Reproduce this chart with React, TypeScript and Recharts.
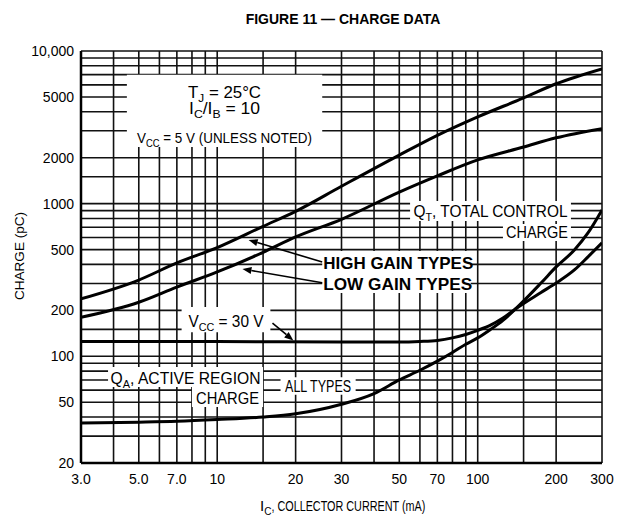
import React from 'react';
import {
  LineChart, Line, XAxis, YAxis, CartesianGrid,
  ReferenceArea, ReferenceLine,
} from 'recharts';

// grid / tick values (log-log paper)
const X_TICKS = [3, 4, 5, 6, 7, 8, 9, 10, 15, 20, 30, 40, 50, 60, 70, 80, 90, 100, 150, 200, 300];
const X_LABELS: Record<number, string> = {
  3: '3.0', 5: '5.0', 7: '7.0', 10: '10', 20: '20', 30: '30',
  50: '50', 70: '70', 100: '100', 200: '200', 300: '300',
};
const Y_TICKS = [
  20, 30, 40, 50, 60, 70, 80, 90, 100, 150, 200, 300, 400, 500, 600, 700, 800, 900,
  1000, 1500, 2000, 3000, 4000, 5000, 6000, 7000, 8000, 9000, 10000,
];
const Y_LABELS: Record<number, string> = {
  20: '20', 50: '50', 100: '100', 200: '200', 500: '500',
  1000: '1000', 2000: '2000', 5000: '5000', 10000: '10,000',
};

// Q_T, high gain types, Vcc = 5 V
const HIGH_IC = [3, 5, 7, 10, 15, 20, 30, 50, 70, 100, 150, 200, 300];
const HIGH_Q = [238, 316, 409, 515, 710, 890, 1300, 2080, 2800, 3700, 4930, 6100, 7640];

// Q_T, low gain types, Vcc = 5 V
const LOW_IC = [3, 5, 7, 10, 15, 20, 30, 50, 70, 100, 150, 200, 300];
const LOW_Q = [180, 226, 284, 357, 480, 605, 790, 1190, 1520, 1935, 2350, 2700, 3100];

// Q_T, Vcc = 30 V
const V30_IC = [3, 10, 30, 50, 60, 70, 80, 90, 100, 112, 125, 140, 175, 200, 235, 265, 300];
const V30_Q = [125, 125, 124, 124, 125, 127, 132, 139, 148, 160, 178, 205, 262, 302, 368, 448, 553];

// Q_A, active region charge, all types
const QA_IC = [3, 5, 7, 10, 15, 20, 30, 40, 50, 60, 70, 80, 90, 100, 112, 125, 140, 175, 200, 235, 265, 300];
const QA_Q = [36.5, 37, 37.5, 38.5, 40, 42, 48.5, 57, 70, 81, 93, 106, 120, 132, 150, 172, 205, 302, 385, 497, 643, 910];

const toRows = (ic: number[], q: number[]) => ic.map((i, k) => ({ i, q: q[k] }));

type Part = { t: string; sub?: boolean };
type NoteLine = { parts: Part[]; dy: number; size: number; len: number; bold?: boolean; start?: boolean };

const renderParts = (parts: Part[], size: number) => {
  let prevSub = false;
  return parts.map((p, j) => {
    const sub = !!p.sub;
    const dy = sub && !prevSub ? 4 : !sub && prevSub ? -4 : undefined;
    prevSub = sub;
    return (
      <tspan key={j} dy={dy} fontSize={sub ? size * 0.7 : undefined}>{p.t}</tspan>
    );
  });
};

const noteLabel = (lines: NoteLine[]) => (props: any) => {
  const vb = props.viewBox || {};
  const x = vb.x ?? 0;
  const y = vb.y ?? 0;
  const w = vb.width ?? 0;
  return (
    <g>
      {lines.map((ln, k) => (
        <text
          key={k}
          x={ln.start ? x + 1 : x + w / 2}
          y={y + ln.dy}
          textAnchor={ln.start ? 'start' : 'middle'}
          fontSize={ln.size}
          fontWeight={ln.bold ? 700 : 400}
          fill="#000"
          textLength={ln.len}
          lengthAdjust="spacingAndGlyphs"
        >
          {renderParts(ln.parts, ln.size)}
        </text>
      ))}
    </g>
  );
};

const Arrow = (p: any) => {
  const { x1, y1, x2, y2 } = p;
  const a = Math.atan2(y2 - y1, x2 - x1);
  const L = 9;
  const W = 3.5;
  const bx = x2 - L * Math.cos(a);
  const by = y2 - L * Math.sin(a);
  const pts = `${x2},${y2} ${bx + W * Math.sin(a)},${by - W * Math.cos(a)} ${bx - W * Math.sin(a)},${by + W * Math.cos(a)}`;
  return (
    <g>
      <line x1={x1} y1={y1} x2={bx} y2={by} stroke="#000" strokeWidth={1.6} />
      <polygon points={pts} fill="#000" />
    </g>
  );
};

const XTitle = (props: any) => {
  const vb = props.viewBox || { x: 73, y: 455, width: 521 };
  const x0 = vb.x + 179;
  const y0 = vb.y + 48;
  return (
    <text x={x0} y={y0} textAnchor="start" fontSize={15} fill="#000">
      <tspan>I</tspan>
      <tspan dy={4} fontSize={10}>C</tspan>
      <tspan dy={-4} textLength={154} lengthAdjust="spacingAndGlyphs">, COLLECTOR CURRENT (mA)</tspan>
    </text>
  );
};

const YTitle = (props: any) => {
  const vb = props.viewBox || { x: 0, y: 43, height: 412 };
  const cx = 16;
  const cy = vb.y + 205;
  return (
    <text x={cx} y={cy} transform={`rotate(-90, ${cx}, ${cy})`} textAnchor="middle" fontSize={13}
      fill="#000" textLength={88} lengthAdjust="spacingAndGlyphs">
      CHARGE (pC)
    </text>
  );
};

const axisTick = { fill: '#000', fontSize: 14 };

export default function App() {
  const high = toRows(HIGH_IC, HIGH_Q);
  const low = toRows(LOW_IC, LOW_Q);
  const v30 = toRows(V30_IC, V30_Q);
  const qa = toRows(QA_IC, QA_Q);

  return (
    <div style={{ position: 'relative', width: 607, height: 511, fontFamily: '"Liberation Sans", Arial, sans-serif', background: '#fff' }}>
      <LineChart width={607} height={511} margin={{ top: 43, right: 13, bottom: 6, left: 0 }}>
        <CartesianGrid stroke="#111" strokeWidth={1.6} />
        <XAxis
          type="number" dataKey="i" scale="log" domain={[3, 300]} allowDataOverflow
          ticks={X_TICKS} interval={0} tickFormatter={(v: number) => X_LABELS[v] ?? ''}
          tickLine={false} tickSize={0} tickMargin={11} tick={axisTick}
          axisLine={{ stroke: '#000', strokeWidth: 2.5 }} height={50}
          label={<XTitle />}
        />
        <YAxis
          type="number" dataKey="q" scale="log" domain={[20, 10000]} allowDataOverflow
          ticks={Y_TICKS} interval={0} tickFormatter={(v: number) => Y_LABELS[v] ?? ''}
          tickLine={false} tickSize={0} tickMargin={7} tick={axisTick}
          axisLine={{ stroke: '#000', strokeWidth: 2.5 }} width={73}
          label={<YTitle />}
        />

        {/* white label boxes that break the grid */}
        <ReferenceArea x1={4.5} x2={25.3} y1={2350} y2={7000} fill="#fff" fillOpacity={1} stroke="none"
          label={noteLabel([
            { parts: [{ t: 'T' }, { t: 'J', sub: true }, { t: ' = 25°C' }], dy: 23, size: 16, len: 73 },
            { parts: [{ t: 'I' }, { t: 'C', sub: true }, { t: '/I' }, { t: 'B', sub: true }, { t: ' = 10' }], dy: 39, size: 16, len: 71 },
            { parts: [{ t: 'V' }, { t: 'CC', sub: true }, { t: ' = 5 V (UNLESS NOTED)' }], dy: 68, size: 15, len: 175 },
          ])}
        />
        <ReferenceArea x1={55} x2={228} y1={771} y2={1042} fill="#fff" fillOpacity={1} stroke="none"
          label={noteLabel([
            { parts: [{ t: 'Q' }, { t: 'T', sub: true }, { t: ', TOTAL CONTROL' }], dy: 16, size: 16, len: 154 },
          ])}
        />
        <ReferenceArea x1={125} x2={228} y1={570} y2={736} fill="#fff" fillOpacity={1} stroke="none"
          label={noteLabel([{ parts: [{ t: 'CHARGE' }], dy: 14, size: 16, len: 62 }])}
        />
        <ReferenceArea x1={25.3} x2={94} y1={260} y2={490} fill="#fff" fillOpacity={1} stroke="none"
          label={noteLabel([
            { parts: [{ t: 'HIGH GAIN TYPES' }], dy: 18, size: 17, len: 150, bold: true, start: true },
            { parts: [{ t: 'LOW GAIN TYPES' }], dy: 39, size: 17, len: 149, bold: true, start: true },
          ])}
        />
        <ReferenceArea x1={7.3} x2={16} y1={144} y2={210} fill="#fff" fillOpacity={1} stroke="none"
          label={noteLabel([
            { parts: [{ t: 'V' }, { t: 'CC', sub: true }, { t: ' = 30 V' }], dy: 20, size: 16, len: 75 },
          ])}
        />
        <ReferenceArea x1={3.81} x2={15} y1={63} y2={85} fill="#fff" fillOpacity={1} stroke="none"
          label={noteLabel([
            { parts: [{ t: 'Q' }, { t: 'A', sub: true }, { t: ', ACTIVE REGION' }], dy: 17, size: 16, len: 150 },
          ])}
        />
        <ReferenceArea x1={8} x2={15} y1={46.5} y2={63} fill="#fff" fillOpacity={1} stroke="none"
          label={noteLabel([{ parts: [{ t: 'CHARGE' }], dy: 17, size: 16, len: 63 }])}
        />
        <ReferenceArea x1={17.5} x2={34} y1={56} y2={73} fill="#fff" fillOpacity={1} stroke="none"
          label={noteLabel([{ parts: [{ t: 'ALL TYPES' }], dy: 15, size: 16, len: 66 }])}
        />

        {/* leader arrows */}
        <ReferenceLine segment={[{ x: 25.3, y: 415 }, { x: 13.2, y: 578 }]} shape={Arrow} />
        <ReferenceLine segment={[{ x: 25.3, y: 303 }, { x: 12.5, y: 373 }]} shape={Arrow} />
        <ReferenceLine segment={[{ x: 16.3, y: 165 }, { x: 19.6, y: 127 }]} shape={Arrow} />

        <Line data={high} dataKey="q" type="monotone" stroke="#000" strokeWidth={3} dot={false} isAnimationActive={false} />
        <Line data={low} dataKey="q" type="monotone" stroke="#000" strokeWidth={3} dot={false} isAnimationActive={false} />
        <Line data={v30} dataKey="q" type="monotone" stroke="#000" strokeWidth={3} dot={false} isAnimationActive={false} />
        <Line data={qa} dataKey="q" type="monotone" stroke="#000" strokeWidth={3} dot={false} isAnimationActive={false} />
      </LineChart>
      <div style={{
        position: 'absolute', top: 3, left: 0, width: 670, textAlign: 'center',
        fontSize: 14, fontWeight: 700, lineHeight: '16px', color: '#000',
      }}>
        FIGURE 11 — CHARGE DATA
      </div>
    </div>
  );
}
